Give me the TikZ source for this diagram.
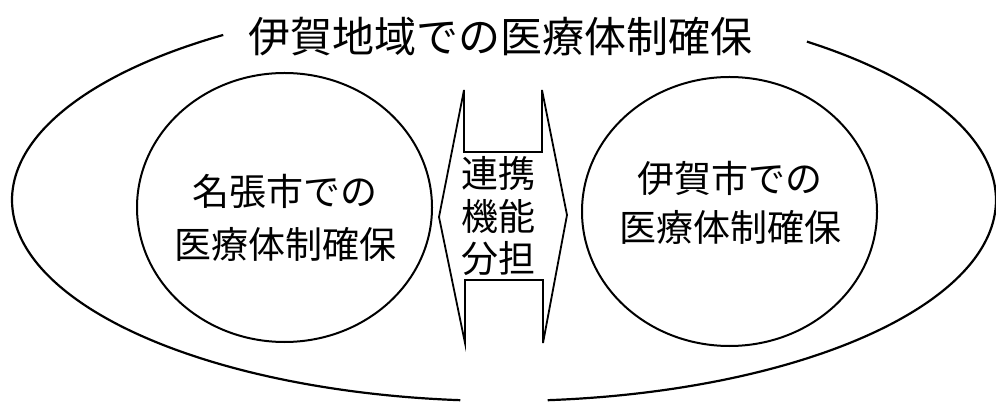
\documentclass[tikz,border=0pt]{standalone}
\usepackage{fontspec}
\setmainfont{Noto Sans CJK JP}
\usetikzlibrary{shapes.geometric}
\begin{document}
\begin{tikzpicture}[x=1pt,y=-1pt,
  outline/.style={line width=2.2pt, line join=round},
  city/.style={draw, ellipse, line width=2pt, minimum width=295pt, minimum height=269pt, inner sep=0pt},
  bigtext/.style={font=\fontsize{42}{50}\selectfont, inner sep=0pt},
  citytext/.style={font=\fontsize{37}{#1}\selectfont, align=center, inner sep=0pt},
  arrowshape/.style={draw, line width=1.8pt, line join=miter}
]
\useasboundingbox (0,0) rectangle (996,403);
\fill[white] (0,0) rectangle (996,403);

% outer region (two arcs of one ellipse, open at title and bottom)
\draw[outline] plot[smooth, domain=235.2:95.1, samples=120] ({504+492*cos(\x)}, {200+201*sin(\x)});
\draw[outline] plot[smooth, domain=84.9:-52, samples=120] ({504+492*cos(\x)}, {200+201*sin(\x)});

\node[bigtext] (title) at (500,37) {伊賀地域での医療体制確保};

% two city ellipses
\node[city] (nabari) at (284.5,207.5) {};
\node[city] (iga) at (729.5,211.5) {};
\node[citytext=53] (nabaritext) at (285,217.5) {名張市での\\医療体制確保};
\node[citytext=49] (igatext) at (730,202.5) {伊賀市での\\医療体制確保};

% double-headed arrow
\coordinate (a1) at (464,90);
\coordinate (a2) at (464,152);
\coordinate (a3) at (542,152);
\coordinate (a4) at (542,90);
\coordinate (a5) at (567,215);
\coordinate (a6) at (543,343);
\coordinate (a7) at (543,280);
\coordinate (a8) at (465,280);
\coordinate (a9) at (465,343);
\coordinate (a10) at (439,217);
\draw[arrowshape] (a1) -- (a2) -- (a3) -- (a4) -- (a5) -- (a6) -- (a7) -- (a8) -- (a9) -- (a10) -- cycle;

\node[citytext=42.5] (linktext) at (498.5,216.5) {連携\\機能\\分担};
\end{tikzpicture}
\end{document}
